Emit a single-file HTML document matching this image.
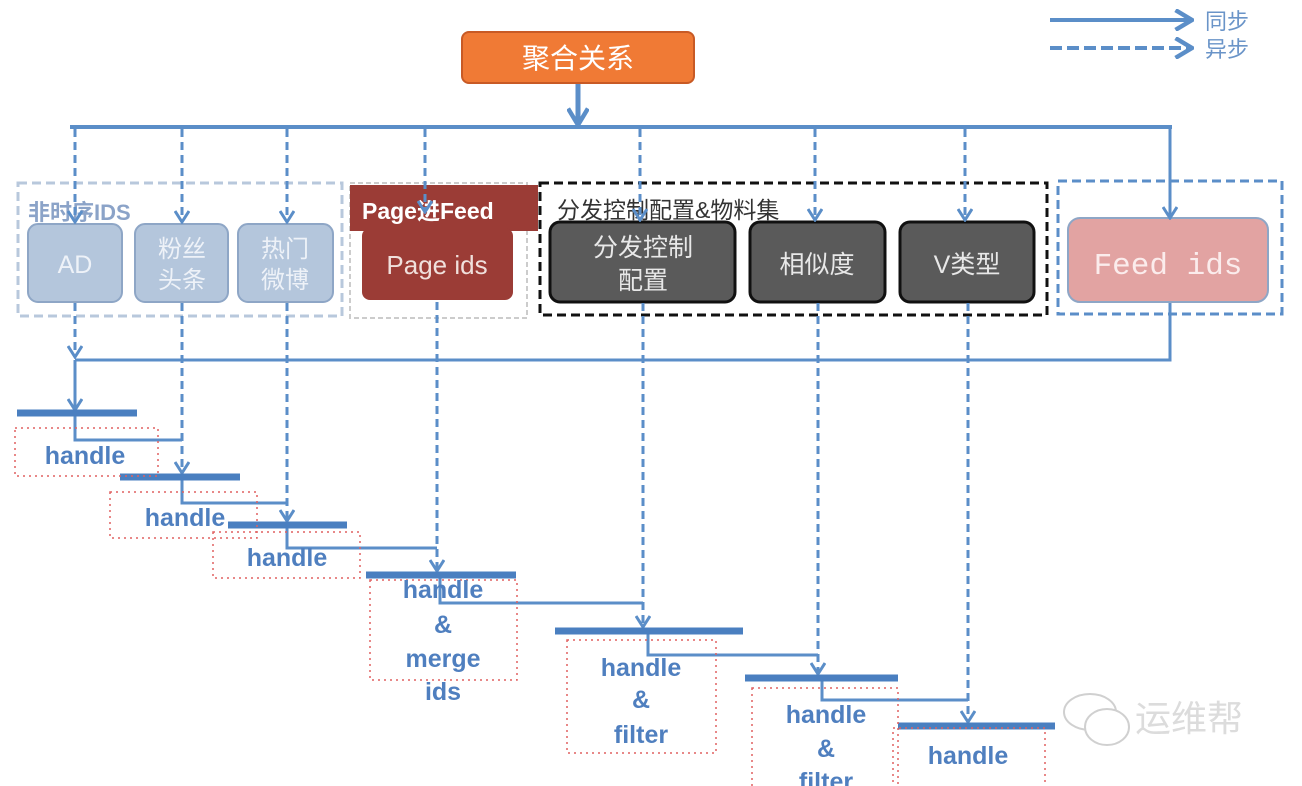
<!DOCTYPE html>
<html><head><meta charset="utf-8"><style>
html,body{margin:0;padding:0;background:#fff;width:1302px;height:786px;overflow:hidden}
svg{display:block}
text{font-family:"Liberation Sans","Noto Sans CJK SC",sans-serif}
.h{fill:#4f7fbf;font-weight:bold;font-size:25px;text-anchor:middle}
</style></head><body>
<svg width="1302" height="786" viewBox="0 0 1302 786" xmlns="http://www.w3.org/2000/svg">
<defs>
<marker id="a" viewBox="0 0 16 16" refX="14" refY="8" markerWidth="16" markerHeight="16" markerUnits="userSpaceOnUse" orient="auto">
<path d="M3,1 L14,8 L3,15" fill="none" stroke="#5b8ec8" stroke-width="3"/></marker>
<marker id="ab" viewBox="0 0 20 20" refX="18" refY="10" markerWidth="22" markerHeight="22" markerUnits="userSpaceOnUse" orient="auto">
<path d="M3,1 L18,10 L3,19" fill="none" stroke="#5b8ec8" stroke-width="4"/></marker>
</defs>

<!-- legend -->
<line x1="1050" y1="20" x2="1192" y2="20" stroke="#5b8ec8" stroke-width="4" marker-end="url(#ab)"/>
<line x1="1050" y1="48" x2="1192" y2="48" stroke="#5b8ec8" stroke-width="4" stroke-dasharray="12,5" marker-end="url(#ab)"/>
<text x="1205" y="29" font-size="22" fill="#6a94c8">同步</text>
<text x="1205" y="57" font-size="22" fill="#6a94c8">异步</text>

<!-- top node -->
<rect x="462" y="32" width="232" height="51" rx="7" fill="#f07a35" stroke="#c85a25" stroke-width="2"/>
<text x="578" y="68" font-size="28" fill="#fff" text-anchor="middle">聚合关系</text>
<line x1="578" y1="84" x2="578" y2="125" stroke="#5b8ec8" stroke-width="5" marker-end="url(#ab)"/>
<line x1="70" y1="127" x2="1172" y2="127" stroke="#5b8ec8" stroke-width="4"/>

<!-- group boxes -->
<rect x="18" y="183" width="324" height="133" fill="none" stroke="#b8c8dc" stroke-width="3" stroke-dasharray="9,5"/>
<rect x="350" y="183" width="177" height="135" fill="none" stroke="#ccc" stroke-width="2" stroke-dasharray="5,3"/>
<rect x="540" y="183" width="507" height="132" fill="none" stroke="#111" stroke-width="3" stroke-dasharray="9,5"/>
<rect x="1058" y="181" width="224" height="133" fill="none" stroke="#5b8ec8" stroke-width="3" stroke-dasharray="9,5"/>

<text x="28" y="220" font-size="22" font-weight="bold" fill="#8ba3c8">非时序IDS</text>
<rect x="350" y="185" width="188" height="46" fill="#9b3c36"/>
<text x="362" y="219" font-size="23" font-weight="bold" fill="#fff">Page进Feed</text>
<text x="557" y="218" font-size="23" fill="#333">分发控制配置&amp;物料集</text>

<!-- nodes -->
<rect x="28" y="224" width="94" height="78" rx="10" fill="#b4c6dc" stroke="#8ea6c6" stroke-width="2"/>
<text x="75" y="273" font-size="25" fill="#eef2f8" text-anchor="middle">AD</text>
<rect x="135" y="224" width="93" height="78" rx="10" fill="#b4c6dc" stroke="#8ea6c6" stroke-width="2"/>
<text x="182" y="257" font-size="24" fill="#eef2f8" text-anchor="middle">粉丝</text>
<text x="182" y="288" font-size="24" fill="#eef2f8" text-anchor="middle">头条</text>
<rect x="238" y="224" width="95" height="78" rx="10" fill="#b4c6dc" stroke="#8ea6c6" stroke-width="2"/>
<text x="285" y="257" font-size="24" fill="#eef2f8" text-anchor="middle">热门</text>
<text x="285" y="288" font-size="24" fill="#eef2f8" text-anchor="middle">微博</text>
<rect x="362" y="228" width="151" height="72" rx="8" fill="#9b3c36"/>
<text x="437" y="274" font-size="26" fill="#f0e0dc" text-anchor="middle">Page ids</text>
<rect x="550" y="222" width="185" height="80" rx="10" fill="#5a5a5a" stroke="#111" stroke-width="3"/>
<text x="643" y="256" font-size="25" fill="#e8e8e8" text-anchor="middle">分发控制</text>
<text x="643" y="289" font-size="25" fill="#e8e8e8" text-anchor="middle">配置</text>
<rect x="750" y="222" width="135" height="80" rx="10" fill="#5a5a5a" stroke="#111" stroke-width="3"/>
<text x="817" y="273" font-size="25" fill="#e8e8e8" text-anchor="middle">相似度</text>
<rect x="900" y="222" width="134" height="80" rx="10" fill="#5a5a5a" stroke="#111" stroke-width="3"/>
<text x="967" y="273" font-size="25" fill="#e8e8e8" text-anchor="middle">V类型</text>
<rect x="1068" y="218" width="200" height="84" rx="12" fill="#e2a3a2" stroke="#8ea6c6" stroke-width="2"/>
<text x="1168" y="274" font-size="31" fill="#fbecec" text-anchor="middle" style="font-family:'Liberation Mono',monospace">Feed ids</text>

<!-- dashed from bus -->
<g stroke="#5b8ec8" stroke-width="3" stroke-dasharray="8,5" fill="none">
<line x1="75" y1="129" x2="75" y2="222" marker-end="url(#a)"/>
<line x1="182" y1="129" x2="182" y2="222" marker-end="url(#a)"/>
<line x1="287" y1="129" x2="287" y2="222" marker-end="url(#a)"/>
<line x1="425" y1="129" x2="425" y2="212" marker-end="url(#a)"/>
<line x1="640" y1="129" x2="640" y2="220" marker-end="url(#a)"/>
<line x1="815" y1="129" x2="815" y2="220" marker-end="url(#a)"/>
<line x1="965" y1="129" x2="965" y2="220" marker-end="url(#a)"/>
<line x1="75" y1="303" x2="75" y2="357" marker-end="url(#a)"/>
<line x1="182" y1="303" x2="182" y2="473" marker-end="url(#a)"/>
<line x1="287" y1="303" x2="287" y2="521" marker-end="url(#a)"/>
<line x1="437" y1="302" x2="437" y2="571" marker-end="url(#a)"/>
<line x1="643" y1="303" x2="643" y2="627" marker-end="url(#a)"/>
<line x1="818" y1="303" x2="818" y2="674" marker-end="url(#a)"/>
<line x1="968" y1="303" x2="968" y2="722" marker-end="url(#a)"/>
</g>
<g stroke="#5b8ec8" stroke-width="3" fill="none">
<line x1="1170" y1="127" x2="1170" y2="218" marker-end="url(#a)"/>
<polyline points="1170,303 1170,360 75,360"/>
<line x1="75" y1="360" x2="75" y2="410" marker-end="url(#a)"/>
<polyline points="75,413 75,440 182,440"/>
<polyline points="182,477 182,503 287,503"/>
<polyline points="287,525 287,548 437,548"/>
<polyline points="440,575 440,603 643,603"/>
<polyline points="648,631 648,655 818,655"/>
<polyline points="822,678 822,700 968,700"/>
</g>

<!-- bars -->
<g stroke="#4a7fc0" stroke-width="7">
<line x1="17" y1="413" x2="137" y2="413"/>
<line x1="120" y1="477" x2="240" y2="477"/>
<line x1="228" y1="525" x2="347" y2="525"/>
<line x1="366" y1="575" x2="516" y2="575"/>
<line x1="555" y1="631" x2="743" y2="631"/>
<line x1="745" y1="678" x2="898" y2="678"/>
<line x1="898" y1="726" x2="1055" y2="726"/>
</g>

<!-- red dotted boxes -->
<g fill="none" stroke="#e06060" stroke-width="1.5" stroke-dasharray="2,4">
<rect x="15" y="428" width="143" height="48"/>
<rect x="110" y="492" width="147" height="46"/>
<rect x="213" y="532" width="147" height="46"/>
<rect x="370" y="580" width="147" height="100"/>
<rect x="567" y="640" width="149" height="113"/>
<rect x="752" y="688" width="146" height="110"/>
<rect x="893" y="728" width="152" height="70"/>
</g>

<text class="h" x="85" y="464">handle</text>
<text class="h" x="185" y="526">handle</text>
<text class="h" x="287" y="566">handle</text>
<text class="h" x="443" y="598">handle</text>
<text class="h" x="443" y="633">&amp;</text>
<text class="h" x="443" y="667">merge</text>
<text class="h" x="443" y="700">ids</text>
<text class="h" x="641" y="676">handle</text>
<text class="h" x="641" y="708">&amp;</text>
<text class="h" x="641" y="743">filter</text>
<text class="h" x="826" y="723">handle</text>
<text class="h" x="826" y="757">&amp;</text>
<text class="h" x="826" y="790">filter</text>
<text class="h" x="968" y="764">handle</text>

<!-- watermark -->
<g fill="none" stroke="#d0d0d0" stroke-width="2">
<ellipse cx="1090" cy="712" rx="26" ry="18"/>
<ellipse cx="1107" cy="727" rx="22" ry="18" fill="#fff"/>
</g>
<text x="1135" y="731" font-size="36" fill="#dcdcdc">运维帮</text>
</svg>
</body></html>
